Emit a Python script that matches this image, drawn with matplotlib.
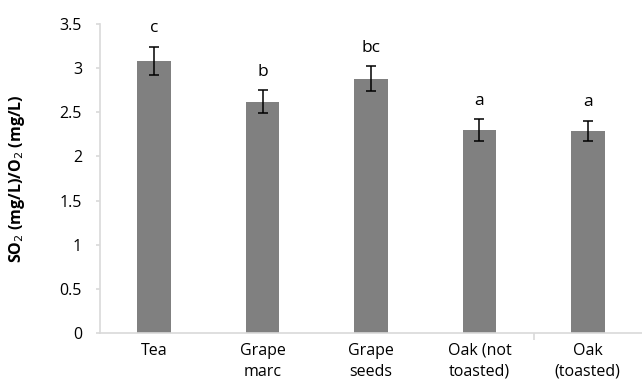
import matplotlib.pyplot as plt
import numpy as np

plt.rcParams['font.family'] = ['Open Sans', 'DejaVu Sans']

categories = ['Tea', 'Grape\nmarc', 'Grape\nseeds', 'Oak (not\ntoasted)', 'Oak\n(toasted)']
ratio = [3.08, 2.62, 2.88, 2.30, 2.29]
err = [0.16, 0.13, 0.14, 0.12, 0.115]
groups = ['c', 'b', 'bc', 'a', 'a']

fig = plt.figure(figsize=(6.42, 3.85), dpi=100)
ax = fig.add_axes([0.1558, 0.135, 0.8442, 0.8027])

x = np.arange(len(categories))
ax.bar(x, ratio, width=0.31, color='#808080', zorder=2)
ax.errorbar(x, ratio, yerr=err, fmt='none', ecolor='black',
            elinewidth=1.1, capsize=3.5, capthick=1.1, zorder=3)

# significance letters above the error bars
for xi, v, e, g in zip(x, ratio, err, groups):
    ax.text(xi, v + e + 0.21, g, ha='center', va='center', fontsize=12.5)

ax.set_xlim(-0.5, len(categories) - 0.5)
ax.set_ylim(0, 3.5)
ax.set_yticks(np.arange(0, 3.51, 0.5))
ax.set_yticklabels(['0', '0.5', '1', '1.5', '2', '2.5', '3', '3.5'])
ax.set_xticks(x)
ax.set_xticklabels(categories, linespacing=1.4)
ax.set_xticks([3.5], minor=True)

for s in ['top', 'right']:
    ax.spines[s].set_visible(False)
for s in ['left', 'bottom']:
    ax.spines[s].set_color('#d9d9d9')
    ax.spines[s].set_linewidth(1.2)

ax.tick_params(axis='y', length=3, color='#d9d9d9', width=1.2, pad=10, labelsize=11.5)
ax.tick_params(axis='x', which='major', length=0, pad=7, labelsize=11.5)
ax.tick_params(axis='x', which='minor', length=5, color='#d9d9d9', width=1.2)

ax.set_ylabel('SO$_2$ (mg/L)/O$_2$ (mg/L)', fontsize=11.5, fontweight='bold')
ax.yaxis.set_label_coords(-0.135, 0.5)

fig.savefig('out.png', dpi=100)
